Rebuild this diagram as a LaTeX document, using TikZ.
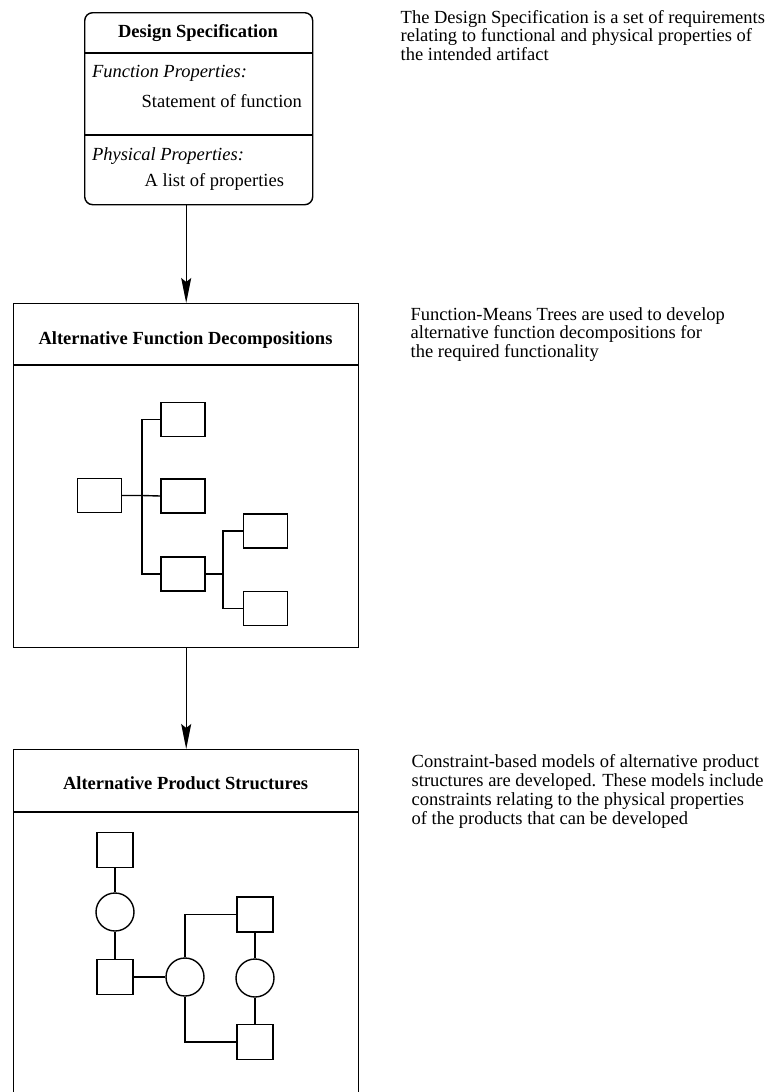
\documentclass[tikz,border=0pt]{standalone}
\usepackage{fontspec}
\setmainfont{Liberation Serif}
\usepackage{tikz}
\usetikzlibrary{arrows.meta, positioning}
\newcommand{\diagfont}{\fontsize{18.5}{18.7}\selectfont}

\begin{document}
\begin{tikzpicture}[
        x=1pt, y=-1pt,
        font=\diagfont,
        line width=1.4pt,
        % Styles
        specbox/.style={rectangle, rounded corners=8pt, draw, minimum width=228pt, minimum height=192pt, anchor=north west},
        panel/.style={rectangle, draw, minimum width=345pt, anchor=north west},
        title/.style={font=\diagfont\bfseries, anchor=base},
        proplabel/.style={font=\diagfont\itshape, anchor=base west},
        propvalue/.style={anchor=base east},
        fbox/.style={rectangle, draw, minimum width=44pt, minimum height=34pt},
        sbox/.style={rectangle, draw, minimum width=36pt, minimum height=35pt},
        cnode/.style={circle, draw, minimum size=38pt},
        flow/.style={-{Stealth[length=25pt, width=10pt, inset=4pt]}},
        note/.style={anchor=base west, align=left, inner sep=0pt}
    ]
    \useasboundingbox (0,0) rectangle (766,1092);

    % 1. DESIGN SPECIFICATION
    \node[specbox] (spec) at (84,12) {};
    \draw ([yshift=-41pt]spec.north west) -- ([yshift=-41pt]spec.north east);
    \draw ([yshift=-123pt]spec.north west) -- ([yshift=-123pt]spec.north east);
    \node[title] (spectitle) at (198,37) {Design Specification};
    \node[proplabel] (funclabel) at (88,77) {Function Properties:};
    \node[propvalue] (functext) at (306,107) {Statement of function};
    \node[proplabel] (physlabel) at (88,160) {Physical Properties:};
    \node[propvalue] (phystext) at (288,186) {A list of properties};

    % 2. FUNCTION DECOMPOSITIONS
    \node[panel, minimum height=344pt] (decomp) at (13,303) {};
    \draw ([yshift=-62pt]decomp.north west) -- ([yshift=-62pt]decomp.north east);
    \node[title] (decomptitle) at (185.5,344) {Alternative Function Decompositions};

    \node[fbox] (root) at (99.5,495.5) {};
    \node[fbox] (fa) at (183,419.5) {};
    \node[fbox] (fb) at (183,496) {};
    \node[fbox] (fc) at (183,574) {};
    \node[fbox] (fca) at (265.5,531) {};
    \node[fbox] (fcb) at (265.5,608.5) {};
    \coordinate (trunk) at (142,495.5);
    \coordinate (subtrunk) at (223,574);
    \draw (root.east) -- (trunk) -- (fb.west);
    \draw (trunk) |- (fa.west);
    \draw (trunk) |- (fc.west);
    \draw (fc.east) -- (subtrunk);
    \draw (subtrunk) |- (fca.west);
    \draw (subtrunk) |- (fcb.west);

    % 3. PRODUCT STRUCTURES
    \node[panel, minimum height=360pt] (struct) at (13,749) {};
    \draw ([yshift=-63pt]struct.north west) -- ([yshift=-63pt]struct.north east);
    \node[title] (structtitle) at (185.5,789) {Alternative Product Structures};

    \node[sbox] (qa) at (115,850) {};
    \node[cnode] (ca) at (115,912) {};
    \node[sbox] (qb) at (115,977) {};
    \node[cnode] (cb) at (185,977) {};
    \node[sbox] (qc) at (255,914.5) {};
    \node[cnode] (cc) at (255,978) {};
    \node[sbox] (qd) at (255,1042) {};
    \draw (qa) -- (ca) -- (qb) -- (cb);
    \draw (cb.north) |- (qc.west);
    \draw (cb.south) |- (qd.west);
    \draw (qc) -- (cc) -- (qd);

    % 4. FLOW
    \draw[flow] (decomp.north |- spec.south) -- (decomp.north);
    \draw[flow] (decomp.south) -- (struct.north);

    % 5. NOTES
    \node[note] (specnote) at (400,60.4) {The Design Specification is a set of requirements\\relating to functional and physical properties of\\the intended artifact};
    \node[note] (decompnote) at (410,357.4) {Function-Means Trees are used to develop\\alternative function decompositions for\\the required functionality};
    \node[note] (structnote) at (411,824) {Constraint-based models of alternative product\\structures are developed. These models include\\constraints relating to the physical properties\\of the products that can be developed};
\end{tikzpicture}
\end{document}
